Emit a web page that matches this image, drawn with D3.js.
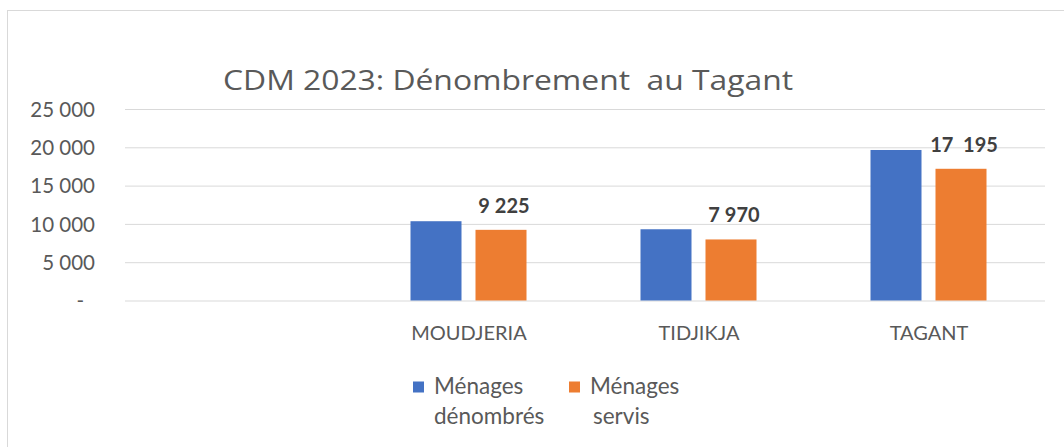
<!DOCTYPE html>
<html><head><meta charset="utf-8">
<script src="https://cdn.jsdelivr.net/npm/d3@7"></script>
<style>html,body{margin:0;padding:0;background:#fff;overflow:hidden}svg{display:block;font-family:Lato,"Open Sans",sans-serif}</style>
</head><body>
<svg id="c" width="1064" height="447"></svg>
<script>
const title = "CDM 2023: Dénombrement\u00a0 au Tagant";
const categories = ["", "MOUDJERIA", "TIDJIKJA", "TAGANT"];
const seriesNames = ["Ménages dénombrés", "Ménages servis"];
const legendLines = [["Ménages", "dénombrés"], ["Ménages", "servis"]];
const denombres = [null, 10350, 9300, 19650];
const servis = [null, 9225, 7970, 17195];
const yTicks = [0, 5000, 10000, 15000, 20000, 25000];
const colors = ["#4472c4", "#ed7d31"];

(function(){
const svg = d3.select("#c");
const W = 1064, H = 447;
// chart border
svg.append("rect").attr("x", 7.5).attr("y", 10.5).attr("width", W + 10).attr("height", H + 10)
  .attr("fill", "#fff").attr("stroke", "#d9d9d9").attr("stroke-width", 1);

const pLeft = 125, pRight = 1045, pTop = 109, pBottom = 300.5;
const x = d3.scaleBand().domain(categories).range([pLeft, pRight]).paddingInner(0).paddingOuter(0);
const x1 = d3.scaleBand().domain(seriesNames).range([x.bandwidth()/2 - 58 - 1.5, x.bandwidth()/2 + 58 - 1.5]).paddingInner(0.2154);
const y = d3.scaleLinear().domain([0, 25000]).range([pBottom, pTop]);

const loc = d3.formatLocale({decimal: ",", thousands: " ", grouping: [3], currency: ["", ""]});
const fmt = loc.format(",d");

// gridlines
const yAxis = d3.axisLeft(y).tickValues(yTicks).tickSize(-(pRight - pLeft)).tickPadding(30)
  .tickFormat(d => d === 0 ? "-" : fmt(d));
const gy = svg.append("g").attr("transform", `translate(${pLeft},0)`).call(yAxis);
gy.select(".domain").remove();
gy.selectAll(".tick line").attr("stroke", "#d9d9d9").attr("stroke-width", 1);
gy.selectAll(".tick text").attr("fill", "#595959").attr("font-size", 20.5).attr("font-family", "Lato")
  .attr("dy", "0.36em")
  .attr("x", d => d === 0 ? -41 : -30);

// bars
const data = [denombres, servis];
const bars = svg.append("g");
data.forEach((vals, si) => {
  categories.forEach((c, ci) => {
    const v = vals[ci];
    if (v == null) return;
    bars.append("rect")
      .attr("x", x(c) + x1(seriesNames[si]))
      .attr("y", y(v))
      .attr("width", x1.bandwidth())
      .attr("height", y(0) - y(v))
      .attr("fill", colors[si]);
  });
});

// data labels on servis
categories.forEach((c, ci) => {
  const v = servis[ci];
  if (v == null) return;
  svg.append("text")
    .attr("x", x(c) + x1(seriesNames[1]) + x1.bandwidth()/2 + 3)
    .attr("y", y(v) - 17)
    .attr("text-anchor", "middle")
    .attr("font-size", 20).attr("font-weight", "bold").attr("fill", "#404040")
    .text(fmt(v).replace(" ", ci === 3 ? "\u00a0 " : " "));
});

// category axis labels
const xAxis = d3.axisBottom(x).tickSize(0).tickPadding(0);
const gx = svg.append("g").attr("transform", `translate(0,${pBottom})`).call(xAxis);
gx.select(".domain").remove();
gx.selectAll(".tick text").attr("fill", "#595959").attr("font-size", 20).attr("font-family", "Lato")
  .attr("dy", 0).attr("y", 39.5).attr("dx", -1);

// title
svg.append("text").attr("x", 223).attr("y", 90)
  .attr("font-size", 28).attr("fill", "#595959").attr("font-family", "Open Sans")
  .attr("textLength", 570).attr("lengthAdjust", "spacingAndGlyphs").text(title);

// legend
const legX = [413, 569];
seriesNames.forEach((s, i) => {
  const g = svg.append("g");
  g.append("rect").attr("x", legX[i]).attr("y", 381.5).attr("width", 11).attr("height", 11).attr("fill", colors[i]);
  g.append("text").attr("x", legX[i] + 21).attr("y", 394).attr("font-size", 22.5).attr("fill", "#595959")
    .text(legendLines[i][0]);
  g.append("text").attr("x", legX[i] + 21 + (i === 1 ? 3 : 0)).attr("y", 424).attr("font-size", 22.5).attr("fill", "#595959")
    .text(legendLines[i][1]);
});
})();
</script>
</body></html>
